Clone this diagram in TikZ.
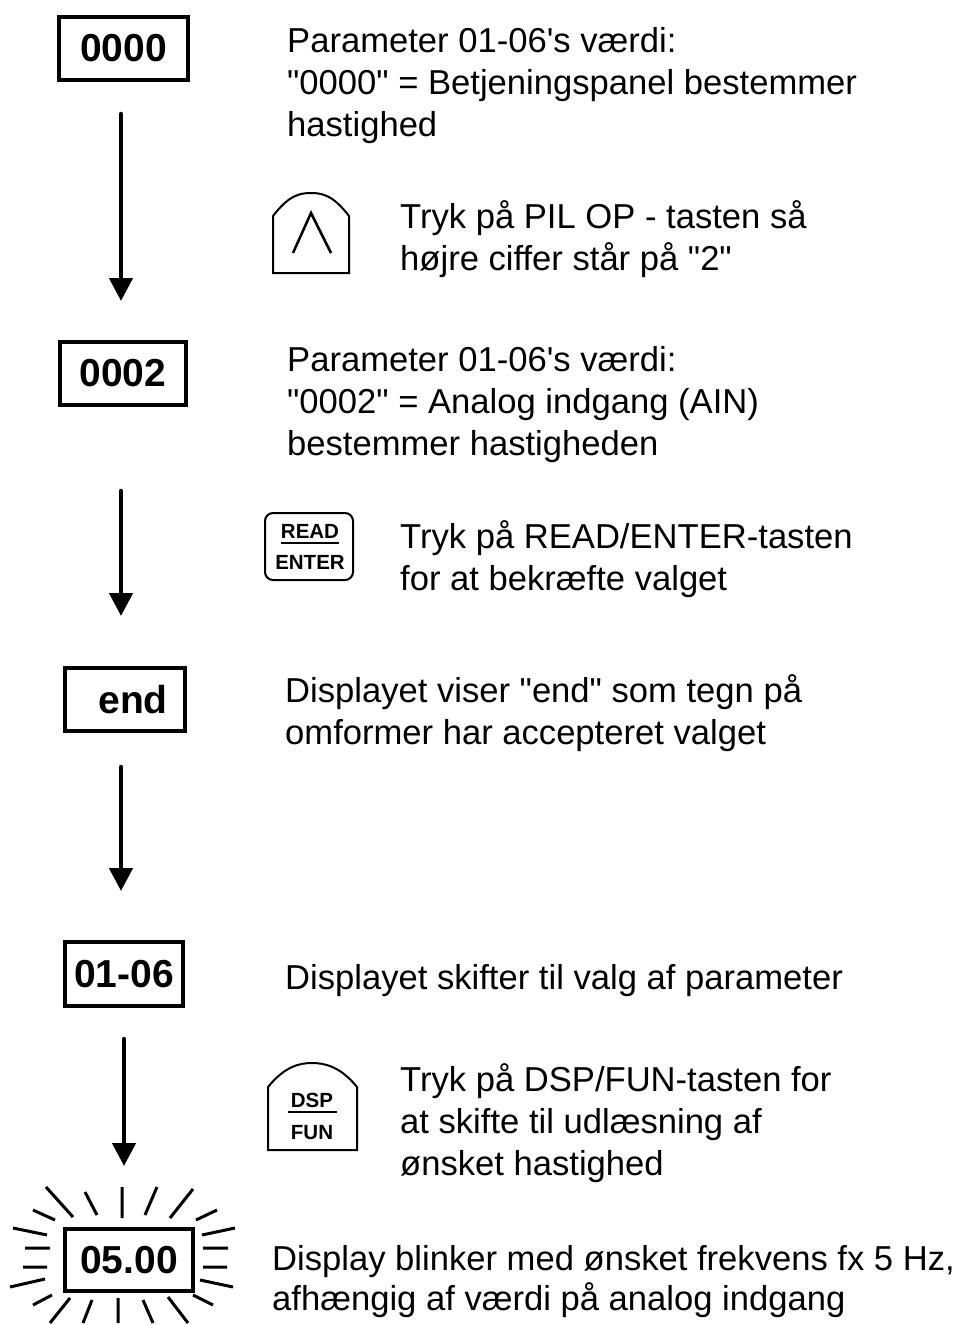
\documentclass[tikz,border=0pt]{standalone}
\usepackage{fontspec}
\setmainfont{Liberation Sans}
\usetikzlibrary{positioning,arrows.meta}

\begin{document}
\begin{tikzpicture}[x=1pt,y=-1pt,every node/.style={inner sep=0pt},
	disp/.style={draw=black,line width=4pt,minimum height=63pt,font=\bfseries\fontsize{39}{44}\selectfont},
	txt/.style={anchor=base west,align=left,font=\fontsize{34.6}{42}\selectfont},
	keytxt/.style={font=\bfseries\fontsize{20.5}{22}\selectfont},
	flow/.style={line width=4.5pt,line cap=round,-{Triangle[length=23pt,width=23pt]}},
	keyline/.style={line width=2pt},
	ray/.style={line width=3pt}]

		\useasboundingbox (0,0) rectangle (960,1325);

		%display boxes
		\node[disp,minimum width=129pt] (d1) at (123.5,48.5) {0000};
		\node[disp,minimum width=126pt] (d2) at (123,373.5) {0002};
		\node[disp,minimum width=120pt] (d3) at (125,699.5) {\hspace*{16pt}end};
		\node[disp,minimum width=118pt,minimum height=64pt] (d4) at (124,974) {01-06};
		\node[disp,minimum width=128pt,minimum height=62pt] (d5) at (129,1260) {05.00};

		%arrows
		\draw[flow,shorten <=32pt,shorten >=39pt] ([xshift=-2.5pt]d1.south) -- ([xshift=-2.5pt]d1.south |- d2.north);
		\draw[flow,shorten <=84pt,shorten >=50pt] ([xshift=-2pt]d2.south) -- ([xshift=-2pt]d2.south |- d3.north);
		\draw[flow,shorten <=34pt,shorten >=49pt] ([xshift=-4pt]d3.south) -- ([xshift=-4pt]d3.south |- d4.north);
		\draw[flow,shorten <=31pt,shorten >=61pt] (d4.south) -- (d4.south |- d5.north);

		%blink rays
		\draw[ray] (122,1187) -- (122,1218) (85,1192) -- (97,1215) (46,1187) -- (73,1217)
			(33,1210) -- (55,1220) (157,1187) -- (145,1215) (193,1189) -- (170,1218)
			(217,1210) -- (196,1220);
		\draw[ray] (13,1228) -- (47,1235) (25,1248) -- (50,1248) (23,1267) -- (47,1267)
			(10,1287) -- (45,1279) (202,1235) -- (235,1228) (203,1248) -- (228,1248)
			(203,1267) -- (227,1267) (200,1280) -- (233,1287);
		\draw[ray] (52,1295) -- (33,1305) (70,1298) -- (50,1323) (92,1300) -- (83,1323)
			(118,1298) -- (118,1323) (143,1300) -- (153,1323) (168,1297) -- (188,1323)
			(193,1295) -- (213,1305);

		%keys
		\draw[keyline] (273,273) -- (273,216) .. controls (289,195) and (300,193) .. (311,193)
			.. controls (322,193) and (333,195) .. (349,216) -- (349,273) -- cycle;
		\draw[line width=2.5pt] (293,253) -- (311,213) -- (331,253);

		\draw[keyline,rounded corners=8pt] (265,513) rectangle (353,580);
		\node[keytxt] (k1) at (310,531) {READ};
		\node[keytxt] (k2) at (310,562) {ENTER};
		\draw[keyline] (k1.south west |- 0,543) -- (k1.south east |- 0,543);

		\draw[keyline] (268,1150) -- (268,1087) .. controls (285,1066) and (300,1063) .. (312,1063)
			.. controls (324,1063) and (340,1066) .. (357,1087) -- (357,1150) -- cycle;
		\node[keytxt] (k3) at (312,1100) {DSP};
		\node[keytxt] (k4) at (312,1133) {FUN};
		\draw[keyline] (288,1112) -- (337,1112);

		%texts
		\node[txt] (t1) at (287,136) {Parameter 01-06\textquotesingle s værdi:\\\textquotedbl 0000\textquotedbl\ = Betjeningspanel bestemmer\\hastighed};
		\node[txt] (t2) at (400,270) {Tryk på PIL OP - tasten så\\højre ciffer står på \textquotedbl 2\textquotedbl};
		\node[txt] (t3) at (287,455) {Parameter 01-06\textquotesingle s værdi:\\\textquotedbl 0002\textquotedbl\ = Analog indgang (AIN)\\bestemmer hastigheden};
		\node[txt] (t4) at (400,590) {Tryk på READ/ENTER-tasten\\for at bekræfte valget};
		\node[txt] (t5) at (285,744) {Displayet viser \textquotedbl end\textquotedbl\ som tegn på\\omformer har accepteret valget};
		\node[txt] (t6) at (285,989) {Displayet skifter til valg af parameter};
		\node[txt] (t7) at (400,1175) {Tryk på DSP/FUN-tasten for\\at skifte til udlæsning af\\ønsket hastighed};
		\node[txt,font=\fontsize{34.6}{40}\selectfont] (t8) at (272,1310) {Display blinker med ønsket frekvens fx 5 Hz,\\afhængig af værdi på analog indgang};

		\end{tikzpicture}
\end{document}
